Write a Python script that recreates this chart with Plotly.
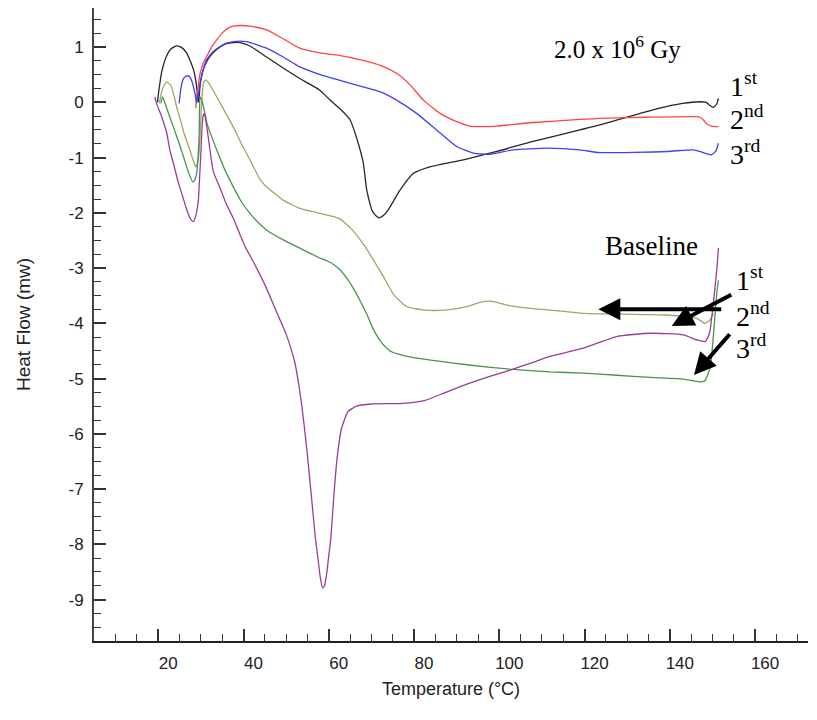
import plotly.graph_objects as go

# ---------------- data (Temperature in °C, Heat flow in mW) ----------------
black_T = [19.8, 20.2, 20.8, 21.9, 23.0, 24.3, 25.5, 26.6, 27.6, 28.3, 28.9, 29.3, 29.5, 29.8, 30.5, 31.5,
           32.9, 34.5, 36.0, 37.6, 39.2, 41.5, 45.4, 49.3, 53.2, 57.9, 60.3, 62.7, 65.0, 66.9, 68.1, 68.9,
           70.1, 71.0, 71.8, 72.8, 73.9, 76.7, 79.8, 83.7, 91.6, 99.4, 107.2, 118.9, 123.6, 136.9, 143.0,
           147.1, 148.5, 149.3, 150.2, 151.0, 151.4]
black_H = [0.0, 0.25, 0.55, 0.83, 0.97, 1.02, 0.99, 0.90, 0.73, 0.58, 0.34, 0.08, 0.0, 0.30, 0.58, 0.76,
           0.90, 1.00, 1.06, 1.08, 1.08, 1.02, 0.82, 0.62, 0.43, 0.22, 0.04, -0.12, -0.32, -0.74, -1.10, -1.59,
           -1.95, -2.05, -2.09, -2.05, -1.95, -1.59, -1.29, -1.17, -1.04, -0.89, -0.72, -0.50, -0.41, -0.12, -0.02,
           0.01, 0.0, -0.05, -0.09, -0.03, 0.07]

red_T = [28.8, 29.0, 29.4, 29.8, 30.5, 31.35, 32.5, 33.7, 35.2, 36.8, 37.6, 39.5, 41.5, 45.4, 49.3, 53.2,
         57.5, 62.4, 68.0, 72.4, 76.0, 79.0, 82.2, 86.1, 90.0, 93.1, 96.0, 99.4, 107.2, 118.9, 123.6, 135.0,
         145.9, 147.1, 148.0, 148.6, 149.8, 151.4]
red_H = [-0.10, 0.10, 0.30, 0.52, 0.70, 0.83, 1.00, 1.13, 1.27, 1.36, 1.38, 1.39, 1.38, 1.31, 1.15, 0.98,
         0.90, 0.85, 0.76, 0.66, 0.52, 0.32, 0.04, -0.20, -0.35, -0.43, -0.44, -0.43, -0.37, -0.31, -0.29, -0.27,
         -0.26, -0.27, -0.33, -0.39, -0.43, -0.44]

blue_T = [24.9, 25.3, 25.9, 26.7, 27.4, 27.8, 28.6, 29.0, 29.8, 30.5, 31.35, 32.9, 34.5, 36.0, 37.6, 40.7,
          45.4, 49.3, 53.2, 58.0, 62.4, 67.0, 72.4, 75.9, 80.6, 85.3, 90.0, 93.9, 97.8, 103.3, 111.1, 118.9,
          123.6, 139.3, 145.5, 147.5, 149.8, 150.8, 151.4]
blue_H = [-0.02, 0.25, 0.43, 0.48, 0.46, 0.40, 0.16, -0.02, 0.34, 0.58, 0.77, 0.92, 1.01, 1.07, 1.10, 1.10,
          0.98, 0.82, 0.64, 0.50, 0.40, 0.30, 0.18, 0.04, -0.20, -0.50, -0.80, -0.92, -0.94, -0.86, -0.83, -0.86,
          -0.91, -0.89, -0.86, -0.90, -0.95, -0.88, -0.74]

purple_T = [19.2, 19.6, 20.8, 22.0, 22.7, 23.7, 24.7, 25.7, 26.7, 27.6, 28.2, 28.8, 29.4, 29.7, 29.95, 30.2,
            30.5, 30.8, 31.4, 32.9, 34.5, 36.0, 37.6, 39.2, 40.3, 42.4, 45.0, 47.5, 50.0, 52.0, 53.5, 55.0,
            56.0, 56.9, 57.5, 58.0, 58.56, 59.0, 59.5, 60.0, 60.44, 61.2, 62.0, 63.0, 64.5, 66.5, 70.0, 77.4,
            82.4, 87.4, 92.4, 97.4, 102.4, 107.4, 111.9, 119.7, 127.5, 135.4, 143.2, 146.3, 148.3, 149.3,
            150.2, 151.0, 151.4]
purple_H = [0.10, -0.02, -0.26, -0.56, -0.86, -1.15, -1.45, -1.70, -1.95, -2.12, -2.16, -2.05, -1.77, -1.35,
            -0.98, -0.55, -0.25, -0.20, -0.45, -1.25, -1.55, -1.85, -2.10, -2.40, -2.60, -2.90, -3.30, -3.75,
            -4.20, -4.70, -5.40, -6.40, -7.20, -7.92, -8.28, -8.60, -8.79, -8.75, -8.53, -8.20, -7.92, -7.10,
            -6.40, -5.90, -5.60, -5.50, -5.46, -5.45, -5.40, -5.25, -5.10, -4.97, -4.85, -4.72, -4.60, -4.45,
            -4.24, -4.18, -4.21, -4.30, -4.33, -4.18, -3.64, -3.04, -2.64]

green_T = [20.6, 21.0, 21.5, 22.5, 23.5, 24.7, 25.9, 27.0, 28.1, 28.6, 29.0, 29.4, 29.6, 29.8, 30.2, 30.8,
           31.5, 33.7, 35.5, 37.6, 39.5, 41.5, 43.5, 45.4, 49.3, 53.2, 57.4, 60.4, 62.5, 64.4, 66.0, 67.4,
           69.0, 70.4, 72.4, 74.4, 77.4, 82.4, 92.4, 102.4, 111.9, 119.7, 127.5, 135.4, 143.2, 147.5, 148.3,
           149.5, 150.2, 151.0, 151.4]
green_H = [-0.02, 0.10, 0.0, -0.22, -0.44, -0.70, -0.98, -1.25, -1.44, -1.40, -1.29, -0.90, -0.56, 0.10, 0.04,
           -0.15, -0.40, -0.86, -1.20, -1.53, -1.80, -2.01, -2.18, -2.31, -2.49, -2.64, -2.80, -2.90, -3.02,
           -3.20, -3.40, -3.60, -3.85, -4.10, -4.35, -4.50, -4.58, -4.65, -4.75, -4.83, -4.88, -4.90, -4.94,
           -4.98, -5.01, -5.06, -5.03, -4.79, -4.24, -3.46, -3.22]

olive_T = [20.2, 20.6, 21.0, 22.0, 23.0, 24.3, 25.3, 26.0, 27.4, 28.4, 28.8, 29.4, 29.8, 30.2, 30.7, 31.2,
           32.0, 33.7, 35.5, 37.6, 39.5, 41.5, 43.9, 45.4, 49.3, 53.2, 57.4, 62.4, 65.4, 68.4, 72.4, 75.4,
           78.4, 82.4, 87.4, 92.4, 95.4, 97.5, 99.4, 102.4, 107.4, 111.9, 119.7, 127.5, 139.3, 146.3, 148.2,
           149.4, 150.2]
olive_H = [-0.02, 0.12, 0.25, 0.37, 0.30, -0.08, -0.35, -0.55, -0.86, -1.10, -1.17, -1.04, -0.60, 0.04, 0.38,
           0.40, 0.33, 0.10, -0.15, -0.45, -0.75, -1.04, -1.40, -1.53, -1.77, -1.92, -2.00, -2.10, -2.30, -2.60,
           -3.10, -3.50, -3.70, -3.76, -3.76, -3.70, -3.62, -3.60, -3.62, -3.68, -3.73, -3.76, -3.82, -3.83,
           -3.85, -3.91, -4.00, -3.94, -3.82]

x_tick_vals = [20, 40, 60, 80, 100, 120, 140, 160]
x_tick_text = ["20", "40", "60", "80", "100", "120", "140", "160"]
y_tick_vals = [1, 0, -1, -2, -3, -4, -5, -6, -7, -8, -9]
y_tick_text = ["1", "0", "-1", "-2", "-3", "-4", "-5", "-6", "-7", "-8", "-9"]

series = [
    (black_T, black_H, "#262626"),
    (red_T, red_H, "#ff4444"),
    (blue_T, blue_H, "#4040ff"),
    (olive_T, olive_H, "#a3a36a"),
    (green_T, green_H, "#4a944a"),
    (purple_T, purple_H, "#9a3c9a"),
]

fig = go.Figure()
for xs, ys, col in series:
    fig.add_trace(go.Scatter(x=xs, y=ys, mode="lines",
                             line=dict(color=col, width=1.3, shape="spline", smoothing=0.5),
                             showlegend=False, hoverinfo="skip"))

# page body has an 8px margin: the figure is placed at (8, 8) in the window
OFF = 8
W, H = 800, 703
L, R, T, B = 86, 0, 0, 70
PW, PH = W - L - R, H - T - B


def px(xw):
    return (xw - OFF - L) / PW


def py(yw):
    return (H - B - (yw - OFF)) / PH


serif = "Liberation Serif, Times New Roman, serif"
sans = "Liberation Sans, Arial, sans-serif"

ann = []
ann.append(dict(x=px(617), y=py(47), xref="paper", yref="paper", showarrow=False,
                text="2.0 x 10<sup>6</sup> Gy", font=dict(family=serif, size=25, color="black"),
                xanchor="center", yanchor="middle"))
for lab, yc in [("1<sup>st</sup>", 84), ("2<sup>nd</sup>", 118), ("3<sup>rd</sup>", 152)]:
    ann.append(dict(x=px(728), y=py(yc), xref="paper", yref="paper", showarrow=False, text=lab,
                    font=dict(family=serif, size=28, color="black"), xanchor="left", yanchor="middle"))
ann.append(dict(x=px(651), y=py(246), xref="paper", yref="paper", showarrow=False, text="Baseline",
                font=dict(family=serif, size=27, color="black"), xanchor="center", yanchor="middle"))
for lab, yc in [("1<sup>st</sup>", 278), ("2<sup>nd</sup>", 314), ("3<sup>rd</sup>", 346)]:
    ann.append(dict(x=px(734), y=py(yc), xref="paper", yref="paper", showarrow=False, text=lab,
                    font=dict(family=serif, size=28, color="black"), xanchor="left", yanchor="middle"))
# arrows (tip, tail) in window pixels
for tipx, tipy, tailx, taily in [(671.7, 326, 732.7, 294), (598.3, 309.3, 722.7, 309.3), (694, 375, 731, 332.7)]:
    ann.append(dict(x=px(tipx), y=py(tipy), xref="paper", yref="paper", text="", showarrow=True,
                    ax=tailx - tipx, ay=taily - tipy, axref="pixel", ayref="pixel",
                    arrowhead=2, arrowsize=1.1, arrowwidth=4, arrowcolor="black", standoff=0))

fig.update_layout(
    width=W, height=H, margin=dict(l=L, r=R, t=T, b=B, autoexpand=False),
    paper_bgcolor="white", plot_bgcolor="white", template=None,
    annotations=ann,
    xaxis=dict(range=[4.92, 172.41], tickmode="array", tickvals=x_tick_vals, ticktext=x_tick_text,
               ticks="inside", ticklen=12, tickwidth=1.5, tickcolor="#333",
               minor=dict(dtick=5, tick0=0, ticks="inside", ticklen=7, tickwidth=1.2, tickcolor="#333"),
               showline=True, linecolor="#222", linewidth=2, mirror=True, showgrid=False, zeroline=False,
               tickfont=dict(family=sans, size=17, color="#222"), ticklabelshift=10, ticklabelstandoff=6,
               title=dict(text="Temperature (°C)", font=dict(family=sans, size=18, color="#222"), standoff=10),
               automargin=False),
    yaxis=dict(range=[-9.750, 1.707], tickmode="array", tickvals=y_tick_vals, ticktext=y_tick_text,
               ticks="inside", ticklen=12, tickwidth=1.5, tickcolor="#333",
               minor=dict(dtick=0.25, tick0=0, ticks="inside", ticklen=7, tickwidth=1.2, tickcolor="#333"),
               showline=True, linecolor="#444", linewidth=2, mirror=False, showgrid=False, zeroline=False,
               tickfont=dict(family=sans, size=17, color="#222"), ticklabelstandoff=5,
               title=dict(text="Heat Flow (mw)", font=dict(family=sans, size=19, color="#222"), standoff=33),
               automargin=False),
)

fig.write_html("out.html")
